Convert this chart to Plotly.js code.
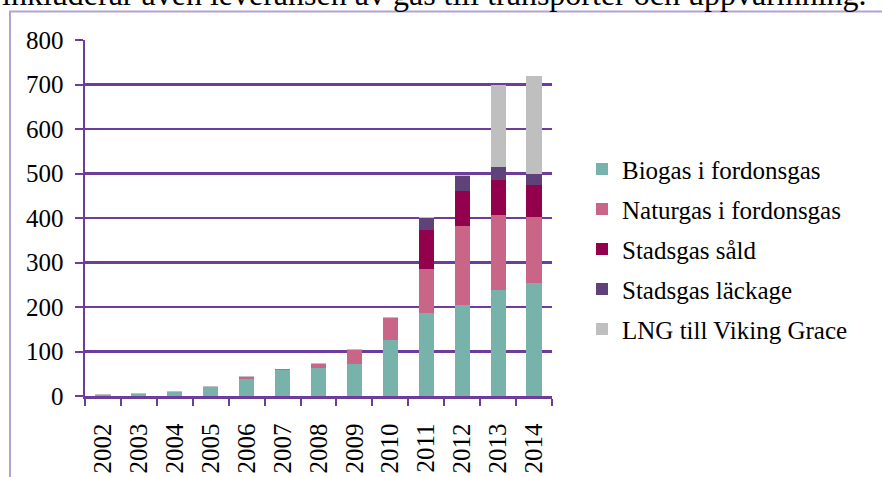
<!DOCTYPE html>
<html>
<head>
<meta charset="utf-8">
<script src="https://cdn.plot.ly/plotly-3.0.1.min.js"></script>
<style>
html,body{margin:0;padding:0;background:#fff;}
#chart{width:882px;height:477px;}
</style>
</head>
<body>
<div id="chart"></div>
<script>
const years = ["2002","2003","2004","2005","2006","2007","2008","2009","2010","2011","2012","2013","2014"];
const biogas   = [2.5, 5, 9.5, 20, 38, 58, 63, 73, 125, 187, 205, 239, 255];
const naturgas = [0, 0, 0, 0, 4.5, 2, 9, 31, 50, 99, 177, 168, 147];
const stadsgasSald = [0, 0, 0, 0, 0, 0, 0, 0, 0, 87, 79, 78, 72];
const stadsgasLackage = [0, 0, 0, 0, 0, 0, 0, 0, 0, 27, 33, 29, 25];
const lngVikingGrace = [1.5, 1.5, 1.5, 1.5, 1.5, 1.5, 1.5, 2, 1.5, 2, 2, 186, 221];

const seriesNames = ["Biogas i fordonsgas","Naturgas i fordonsgas","Stadsgas såld","Stadsgas läckage","LNG till Viking Grace"];
const seriesValues = [biogas, naturgas, stadsgasSald, stadsgasLackage, lngVikingGrace];
const seriesColors = ["#78B3AB","#C96688","#93004B","#5E4279","#BFBFBF"];

const topText = "inkluderar även leveransen av gas till transporter och uppvärmning.";

const purple = "#6E3D9C";
const serif = "Liberation Serif, Times New Roman, serif";

const traces = seriesNames.map((n, i) => ({
  type: "bar",
  name: n,
  x: years,
  y: seriesValues[i],
  marker: {color: seriesColors[i], line: {width: 0}},
  legendgroup: "g" + i,
  hoverinfo: "x+y+name"
}));

// pixel helpers for paper coordinates (plot area: x 85..552, y 39.5..396)
const L = 85, R = 552, T = 39.5, B = 396;
const px = v => (v - L) / (R - L);
const py = v => (B - v) / (B - T);

const layout = {
  width: 882, height: 477,
  margin: {l: L, r: 882 - R, t: T, b: 477 - B, pad: 0},
  paper_bgcolor: "#ffffff",
  plot_bgcolor: "#ffffff",
  barmode: "stack",
  bargap: 0.58,
  font: {family: serif, size: 25, color: "#000"},
  xaxis: {
    type: "category",
    showgrid: false,
    showline: true, linecolor: purple, linewidth: 2.5,
    ticks: "outside", tickson: "boundaries", ticklen: 7, tickwidth: 2, tickcolor: purple,
    tickangle: -90,
    ticklabelstandoff: 15,
    tickfont: {family: serif, size: 25, color: "#000"},
    fixedrange: true
  },
  yaxis: {
    range: [0, 800],
    dtick: 100,
    showgrid: true, gridcolor: purple, gridwidth: 2.5,
    zeroline: false,
    showline: true, linecolor: purple, linewidth: 2.5,
    ticks: "outside", ticklen: 8, tickwidth: 2, tickcolor: purple,
    ticklabelstandoff: 6,
    tickfont: {family: serif, size: 25, color: "#000"},
    fixedrange: true
  },
  legend: {
    x: px(582), xanchor: "left",
    y: py(146), yanchor: "top",
    traceorder: "grouped",
    tracegroupgap: 4.5,
    font: {family: serif, size: 25, color: "#000"},
    bgcolor: "rgba(0,0,0,0)"
  },
  shapes: [{
    type: "rect", xref: "paper", yref: "paper",
    x0: px(10), x1: px(900), y0: py(490), y1: py(11),
    line: {color: "#B3A3CF", width: 2}, layer: "below"
  }],
  annotations: [{
    text: topText, showarrow: false,
    xref: "paper", yref: "paper",
    x: px(0), xanchor: "left",
    y: py(13), yanchor: "bottom",
    font: {family: serif, size: 32, color: "#000"}
  }]
};

Plotly.newPlot("chart", traces, layout, {displayModeBar: false, staticPlot: true});
</script>
</body>
</html>
